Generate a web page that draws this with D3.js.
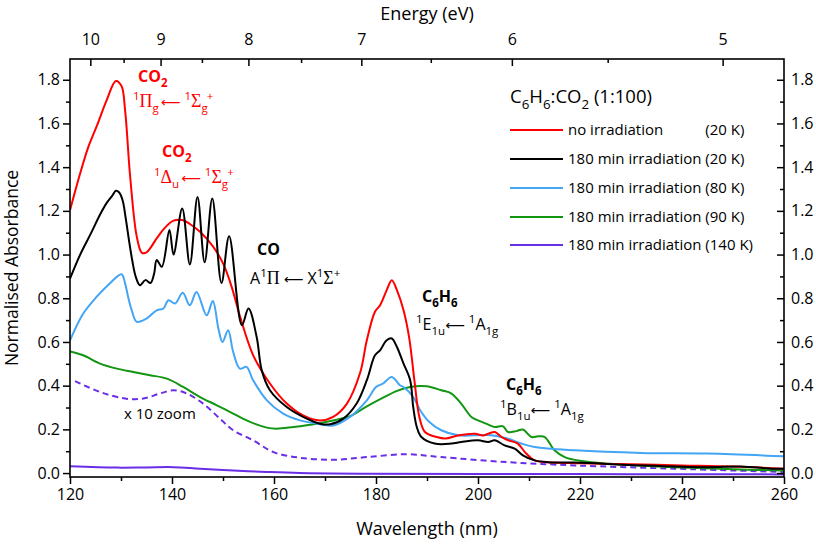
<!DOCTYPE html>
<html><head><meta charset="utf-8">
<script src="https://cdn.jsdelivr.net/npm/d3@7"></script>
<style>body{margin:0;background:#fff}svg{display:block}text{font-family:"Open Sans",sans-serif}</style>
</head><body><svg id="c" width="816" height="547"></svg>
<script>
// ---- data ----
const redWl=[120,122,123.6,125.2,127.2,129,130.1,130.8,131.8,133.1,134.1,135,137,138.5,140.3,142,143.5,145.5,148.1,150.1,151.7,153.3,155.9,159.2,162.5,165.7,169,171.6,174.3,176.9,178.2,179.8,180.8,182.1,183.1,184.1,185.4,186.5,187.6,188.5,189.6,191.9,193.6,196.1,199.4,201,202,203.3,204.6,205.9,207.8,209.2,211.1,213.7,220,230,240,250,260];
const redV=[1.203,1.372,1.493,1.585,1.707,1.794,1.771,1.661,1.356,1.081,1.008,1.010,1.074,1.12,1.155,1.158,1.14,1.104,1.035,0.955,0.852,0.72,0.54,0.41,0.318,0.264,0.241,0.257,0.318,0.46,0.608,0.738,0.768,0.837,0.883,0.837,0.745,0.62,0.41,0.257,0.188,0.165,0.158,0.172,0.18,0.172,0.18,0.188,0.165,0.15,0.135,0.096,0.058,0.05,0.045,0.04,0.035,0.03,0.02];
const blackWl=[120,122.1,124.1,126,127.3,128.3,129,129.6,130.3,130.9,131.6,132.2,132.9,133.7,134.8,135.8,136.5,137,138,139.5,140.3,142,143.5,145,146.4,147.9,149.7,151.2,153.7,155,156.6,157.6,159.2,162.5,165.7,169,171,173.6,176.2,178.2,179.8,180.8,182.1,183.1,184.1,185.4,186.7,187.3,188,188.9,191.5,194.8,196.7,200,202,203.3,205.2,207.2,208.8,211.1,213.7,219,232,245,251.5,258,260];
const blackV=[0.89,1.005,1.097,1.188,1.24,1.27,1.292,1.285,1.25,1.17,1.06,0.974,0.898,0.86,0.883,0.87,0.913,0.975,0.944,1.112,1.0,1.211,0.955,1.264,0.965,1.257,0.87,1.084,0.677,0.753,0.623,0.47,0.379,0.302,0.257,0.226,0.223,0.249,0.318,0.425,0.539,0.562,0.608,0.616,0.577,0.501,0.425,0.302,0.211,0.165,0.135,0.135,0.142,0.15,0.142,0.15,0.127,0.112,0.081,0.058,0.05,0.048,0.035,0.027,0.03,0.02,0.02];
const blueWl=[120,122.6,125.2,127.8,130.1,130.8,131.4,132.1,133.1,135,137,138.3,139.3,140.6,142.1,143.5,144.8,146.8,148,149.1,149.9,151,152,153.3,154.6,155.9,158.6,161.8,165.1,168.4,171.6,174.9,178.2,180,181.4,183.1,184.7,185.4,187.3,188.6,190.4,192.8,196.1,202.6,205.9,208.5,211.1,219,232,245,260];
const blueV=[0.607,0.73,0.806,0.868,0.91,0.868,0.806,0.745,0.692,0.707,0.745,0.753,0.791,0.776,0.825,0.768,0.829,0.722,0.788,0.661,0.6,0.654,0.554,0.478,0.486,0.425,0.333,0.272,0.241,0.226,0.218,0.257,0.333,0.394,0.41,0.44,0.402,0.394,0.348,0.29,0.235,0.196,0.173,0.173,0.157,0.135,0.119,0.104,0.092,0.089,0.077];
const greenWl=[120,122.6,125.9,129.2,132.4,135.7,139,142.2,145.5,148.8,152,155.3,158.6,160.5,163.8,168.4,171.6,174.9,178.2,181.4,184,186.7,189.9,192.8,194.8,196.7,198.7,200,201.6,203.3,204.9,205.9,207.5,208.8,210.5,211.8,213.1,215,217,220.3,225.5,238.6,251.6,260];
const greenV=[0.557,0.539,0.501,0.478,0.463,0.448,0.432,0.394,0.348,0.31,0.272,0.234,0.208,0.203,0.211,0.226,0.241,0.26,0.305,0.345,0.375,0.394,0.397,0.379,0.364,0.318,0.257,0.241,0.226,0.211,0.214,0.188,0.192,0.199,0.165,0.168,0.165,0.104,0.073,0.055,0.043,0.027,0.016,0.012];
const purpleWl=[120,129.2,135,140.3,145.5,152,158.6,165,178,200,230,260];
const purpleV=[0.031,0.025,0.026,0.027,0.02,0.012,0.005,0.0,-0.003,-0.004,-0.005,-0.006];
const zoomWl=[121,125.9,130.8,134.4,137.6,140.3,142.9,146.1,149.4,152,155.9,159.9,165.1,171.6,178.2,186,192.8,205.9,219,238.6,260];
const zoomV=[0.421,0.371,0.341,0.341,0.364,0.379,0.364,0.318,0.249,0.196,0.15,0.096,0.07,0.061,0.073,0.086,0.073,0.05,0.035,0.02,0.005];

const seriesNames=["no irradiation","180 min irradiation (20 K)","180 min irradiation (80 K)","180 min irradiation (90 K)","180 min irradiation (140 K)"];
const seriesColors=["#ff0000","#000000","#42a5f5","#129612","#6a2ee6"];
const xTicks=[120,140,160,180,200,220,240,260];
const yTicks=[0.0,0.2,0.4,0.6,0.8,1.0,1.2,1.4,1.6,1.8];
const eTicks=[10,9,8,7,6,5];
const eMinor=[9.5,8.5,7.5,6.5,5.5];

// ---- scales ----
const svg=d3.select("#c");
const L=70,R=784,T=59,B=477;
const x=d3.scaleLinear().domain([120,260]).range([L,R]);
const y=d3.scaleLinear().domain([-0.018,1.895]).range([B,T]);
const hc=1239.84;

svg.append("defs").append("clipPath").attr("id","clip").append("rect").attr("x",L).attr("y",T).attr("width",R-L).attr("height",B-T);

const line=d3.line().x(d=>x(d[0])).y(d=>y(d[1])).curve(d3.curveCatmullRom.alpha(0.5));
const plot=svg.append("g").attr("clip-path","url(#clip)");
function draw(wl,v,col,dash){
  plot.append("path").datum(wl.map((w,i)=>[w,v[i]])).attr("d",line)
   .attr("fill","none").attr("stroke",col).attr("stroke-width",2).attr("stroke-linejoin","round")
   .attr("stroke-dasharray",dash||null);
}
draw(zoomWl,zoomV,seriesColors[4],"6,4");
draw(purpleWl,purpleV,seriesColors[4]);
draw(greenWl,greenV,seriesColors[3]);
draw(blueWl,blueV,seriesColors[2]);
draw(redWl,redV,seriesColors[0]);
draw(blackWl,blackV,seriesColors[1]);

// ---- axes ----
const fs=16;
svg.append("g").attr("transform",`translate(0,${B})`)
  .call(d3.axisBottom(x).tickValues(xTicks).tickSize(7).tickPadding(5).tickFormat(d3.format("d")));
svg.append("g").attr("transform",`translate(0,${B})`)
  .call(d3.axisBottom(x).tickValues(d3.range(130,260,20)).tickSize(4).tickFormat(""));
svg.append("g").attr("transform",`translate(${L},0)`)
  .call(d3.axisLeft(y).tickValues(yTicks).tickSize(7).tickPadding(3).tickFormat(d3.format(".1f")));
svg.append("g").attr("transform",`translate(${L},0)`)
  .call(d3.axisLeft(y).tickValues(d3.range(0.1,1.9,0.2)).tickSize(4).tickFormat(""));
svg.append("g").attr("transform",`translate(${R},0)`)
  .call(d3.axisRight(y).tickValues(yTicks).tickSize(-7).tickPadding(7).tickFormat(d3.format(".1f")));
svg.append("g").attr("transform",`translate(${R},0)`)
  .call(d3.axisRight(y).tickValues(d3.range(0.1,1.9,0.2)).tickSize(-4).tickFormat(""));
const xe=d3.scaleLinear().domain([120,260]).range([L,R]);
svg.append("g").attr("transform",`translate(0,${T})`)
  .call(d3.axisTop(xe).tickValues(eTicks.map(e=>hc/e)).tickSize(-7).tickPadding(14).tickFormat((d,i)=>eTicks[i]));
svg.append("g").attr("transform",`translate(0,${T})`)
  .call(d3.axisTop(xe).tickValues(eMinor.map(e=>hc/e)).tickSize(-4).tickFormat(""));
svg.selectAll(".domain").remove();
svg.selectAll(".tick line").attr("stroke","#000").attr("stroke-width",1.5);
svg.selectAll(".tick text").attr("font-size",fs).attr("fill","#000").attr("font-family","Open Sans");
svg.append("rect").attr("x",L).attr("y",T).attr("width",R-L).attr("height",B-T).attr("fill","none").attr("stroke","#000").attr("stroke-width",1.6);

// titles
svg.append("text").attr("x",(L+R)/2).attr("y",20).attr("text-anchor","middle").attr("font-size",18).text("Energy (eV)");
svg.append("text").attr("x",(L+R)/2).attr("y",535).attr("text-anchor","middle").attr("font-size",18).text("Wavelength (nm)");
svg.append("text").attr("transform",`translate(18,${(T+B)/2}) rotate(-90)`).attr("text-anchor","middle").attr("font-size",17.5).text("Normalised Absorbance");

// ---- rich text helper ----
function rich(x0,y0,segs,opt){
  const size=opt.size||16;
  const t=svg.append("text").attr("x",x0).attr("y",y0).attr("fill",opt.color||"#000")
    .attr("font-size",size).attr("font-weight",opt.bold?"bold":"normal");
  let off=0;
  segs.forEach(s=>{
    const [txt,kind]=s;
    let target=0, fsz=size, fam=null;
    if(kind==="sub"){target=size*0.32;fsz=size*0.72;}
    else if(kind==="sup"){target=-size*0.42;fsz=size*0.72;}
    else if(kind==="g"){fam="Liberation Serif";fsz=size*1.12;}
    else if(kind==="a"){fam="DejaVu Sans";fsz=size*0.85;}
    const ts=t.append("tspan").attr("dy",target-off).attr("font-size",fsz).text(txt);
    if(fam) ts.attr("font-family",fam);
    if(s[2]) ts.attr("dx",s[2]);
    off=target;
  });
  return t;
}
const RED="#ff0000";
rich(138,82,[["CO"],["2","sub"]],{bold:true,color:RED});
rich(133,107,[["1","sup"],["Π","g"],["g","sub"],["⟵","a",2],[" "],["1","sup"],["Σ","g"],["g","sub"],["+","sup",-1]],{color:RED,size:16});
rich(162,157,[["CO"],["2","sub"]],{bold:true,color:RED});
rich(154,183,[["1","sup"],["Δ","g"],["u","sub"],["⟵","a",2],[" "],["1","sup"],["Σ","g"],["g","sub"],["+","sup",-1]],{color:RED,size:16});
rich(257,255,[["CO"]],{bold:true});
rich(250,284,[["A"],["1","sup"],["Π","g"],[" "],["⟵","a"],[" "],["X"],["1","sup"],["Σ","g"],["+","sup"]],{size:16});
rich(422,302,[["C"],["6","sub"],["H"],["6","sub"]],{bold:true});
rich(416,330,[["1","sup"],["E"],["1u","sub"],["⟵","a"],[" "],["1","sup"],["A"],["1g","sub"]],{size:16});
rich(506,390,[["C"],["6","sub"],["H"],["6","sub"]],{bold:true});
rich(500,415,[["1","sup"],["B"],["1u","sub"],["⟵","a"],[" "],["1","sup"],["A"],["1g","sub"]],{size:16});
svg.append("text").attr("x",124).attr("y",419).attr("font-size",15).text("x 10 zoom");

// ---- legend ----
rich(510,103,[["C"],["6","sub"],["H"],["6","sub"],[":CO"],["2","sub"],[" (1:100)"]],{size:18.5});
const rowY=[130,159,188,217,245];
let endX=0;
seriesNames.forEach((n,i)=>{
  svg.append("line").attr("x1",510).attr("x2",563).attr("y1",rowY[i]).attr("y2",rowY[i]).attr("stroke",seriesColors[i]).attr("stroke-width",1.8);
  const t=svg.append("text").attr("x",568).attr("y",rowY[i]+5).attr("font-size",15).text(n);
  if(i===1) endX=568+t.node().getComputedTextLength();
});
svg.append("text").attr("x",endX).attr("y",rowY[0]+5).attr("text-anchor","end").attr("font-size",15).text("(20 K)");
</script></body></html>
